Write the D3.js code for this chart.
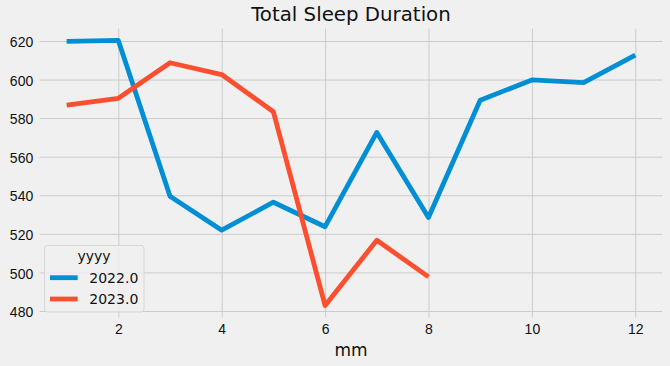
<!DOCTYPE html>
<html lang="en">
  <head>
    <meta charset="UTF-8" />
    <title>Total Sleep Duration</title>
    <script src="https://d3js.org/d3.v7.min.js"></script>
    <style>
      body {
        margin: 0;
        background: #f0f0f0;
      }
      svg {
        display: block;
        font-family: "DejaVu Sans", sans-serif;
      }
      .grid line {
        stroke: #cbcbcb;
        stroke-width: 1;
      }
      .grid text {
        fill: #111;
        font-size: 14px;
      }
    </style>
  </head>
  <body>
    <svg id="svg" width="670" height="366"></svg>

    <script>
      // month numbers
      const months = [1, 2, 3, 4, 5, 6, 7, 8, 9, 10, 11, 12];
      const series2022 = [619.8, 620.3, 539.5, 521.9, 536.4, 523.7, 572.6, 528.5, 589.3, 599.8, 598.4, 612.7];
      const series2023 = [586.8, 590.3, 608.7, 602.6, 583.3, 482.8, 516.7, 497.7];
      const seriesNames = ["2022.0", "2023.0"];
      const xTicks = [2, 4, 6, 8, 10, 12];
      const yTicks = [480, 500, 520, 540, 560, 580, 600, 620];

      const colors = ["#008fd5", "#fc4f30"];

      const svg = d3.select("#svg");
      const mLeft = 38.2, mRight = 663.7, mTop = 27.1, mBottom = 318.9;

      const x = d3.scaleLinear().domain([0.45, 12.55]).range([mLeft, mRight]);
      const y = d3.scaleLinear().domain([475.9, 627.2]).range([mBottom, mTop]);

      // horizontal grid + y labels
      svg
        .append("g")
        .attr("class", "grid")
        .attr("transform", `translate(${mLeft + 1.5},0)`)
        .call(
          d3.axisLeft(y)
            .tickValues(yTicks)
            .tickFormat(d3.format("d"))
            .tickSizeInner(-(mRight - mLeft - 3))
            .tickSizeOuter(0)
            .tickPadding(6.5)
        )
        .call((g) => g.select(".domain").remove())
        .call((g) => g.selectAll("text").attr("dy", "0.4em"));

      // vertical grid + x labels
      svg
        .append("g")
        .attr("class", "grid")
        .attr("transform", `translate(0,${mBottom - 1.5})`)
        .call(
          d3.axisBottom(x)
            .tickValues(xTicks)
            .tickFormat(d3.format("d"))
            .tickSizeInner(-(mBottom - mTop - 3))
            .tickSizeOuter(0)
            .tickPadding(6.5)
        )
        .call((g) => g.select(".domain").remove());

      const line = d3
        .line()
        .x((d, i) => x(months[i]))
        .y((d) => y(d));

      [series2022, series2023].forEach((s, i) => {
        svg
          .append("path")
          .datum(s)
          .attr("fill", "none")
          .attr("stroke", colors[i])
          .attr("stroke-width", 4.8)
          .attr("stroke-linejoin", "round")
          .attr("d", line);
      });

      // title & axis label
      svg
        .append("text")
        .attr("x", (mLeft + mRight) / 2)
        .attr("y", 20.7)
        .attr("text-anchor", "middle")
        .style("font-size", "19.8px")
        .attr("fill", "#111")
        .text("Total Sleep Duration");

      svg
        .append("text")
        .attr("x", (mLeft + mRight) / 2)
        .attr("y", 356)
        .attr("text-anchor", "middle")
        .style("font-size", "17px")
        .attr("fill", "#111")
        .text("mm");

      // legend
      const legend = svg.append("g").attr("transform", "translate(44.5,245.5)");
      legend
        .append("rect")
        .attr("width", 99.5)
        .attr("height", 66.5)
        .attr("rx", 3)
        .attr("fill", "#f0f0f0")
        .attr("fill-opacity", 0.8)
        .attr("stroke", "#d6d6d6");
      legend
        .append("text")
        .attr("x", 49.5)
        .attr("y", 15.5)
        .attr("text-anchor", "middle")
        .style("font-size", "14px")
        .attr("fill", "#111")
        .text("yyyy");

      seriesNames.forEach((name, i) => {
        const yy = 32.2 + i * 21.3;
        legend
          .append("line")
          .attr("x1", 5.5)
          .attr("x2", 33.2)
          .attr("y1", yy)
          .attr("y2", yy)
          .attr("stroke", colors[i])
          .attr("stroke-width", 4.8);
        legend
          .append("text")
          .attr("x", 44.8)
          .attr("y", yy)
          .attr("dy", "0.36em")
          .style("font-size", "14px")
          .attr("fill", "#111")
          .text(name);
      });
    </script>
  </body>
</html>
